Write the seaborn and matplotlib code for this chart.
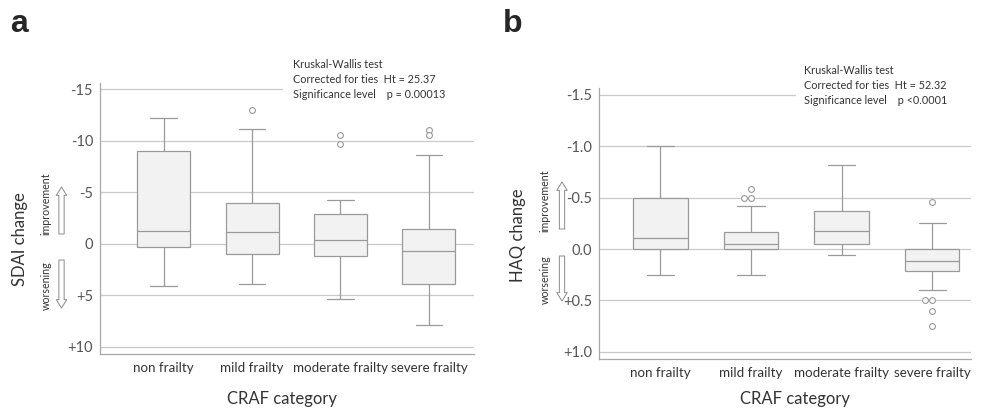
import pandas as pd
import numpy as np
import seaborn as sns
import matplotlib.pyplot as plt
from matplotlib.patches import Rectangle

# Box summaries (lo whisker, q1, median, q3, hi whisker)
categories = ['non frailty', 'mild frailty', 'moderate frailty', 'severe frailty']

sdai_lo = [-12.2, -11.1, -4.2, -8.65]
sdai_q1 = [-9.05, -4.0, -2.9, -1.4]
sdai_med = [-1.26, -1.17, -0.35, 0.7]
sdai_q3 = [0.35, 1.0, 1.2, 3.9]
sdai_hi = [4.1, 3.95, 5.4, 7.9]
sdai_outliers = [[], [-13.0], [-10.6, -9.7], [-11.0, -10.6]]

haq_lo = [-1.0, -0.42, -0.82, -0.25]
haq_q1 = [-0.5, -0.17, -0.37, 0.0]
haq_med = [-0.11, -0.046, -0.18, 0.12]
haq_q3 = [0.0, 0.0, -0.046, 0.21]
haq_hi = [0.25, 0.25, 0.058, 0.40]
haq_outliers = [[], [-0.58, -0.5, -0.5], [], [-0.455, 0.5, 0.5, 0.6, 0.75]]

sdai_ticks = [-15, -10, -5, 0, 5, 10]
sdai_ticklabels = ['-15', '-10', '-5', '0', '+5', '+10']
haq_ticks = [-1.5, -1.0, -0.5, 0.0, 0.5, 1.0]
haq_ticklabels = ['-1.5', '-1.0', '-0.5', '0.0', '+0.5', '+1.0']


def box_frame(lo, q1, med, q3, hi):
    # five points per group -> quartiles land exactly on q1/med/q3
    rows = []
    for i, cat in enumerate(categories):
        for v in (lo[i], q1[i], med[i], q3[i], hi[i]):
            rows.append((cat, v))
    return pd.DataFrame(rows, columns=['CRAF', 'value'])


def outlier_frame(outliers):
    rows = [(cat, v) for cat, vals in zip(categories, outliers) for v in vals]
    return pd.DataFrame(rows, columns=['CRAF', 'value'])


sns.set_style('white')
plt.rcParams['font.family'] = ['Lato', 'DejaVu Sans']

GRID = '#c9c9c9'
EDGE = '#9a9a9a'
TXT = '#333333'

fig = plt.figure(figsize=(9.85, 4.12), dpi=100)
ax1 = fig.add_axes([0.1015, 0.1408, 0.3797, 0.6577])
ax2 = fig.add_axes([0.608, 0.1286, 0.378, 0.6574])

panels = [
    (ax1, box_frame(sdai_lo, sdai_q1, sdai_med, sdai_q3, sdai_hi), outlier_frame(sdai_outliers),
     sdai_ticks, sdai_ticklabels, (10.7, -15.6), (-0.72, 3.51), 'SDAI change', False),
    (ax2, box_frame(haq_lo, haq_q1, haq_med, haq_q3, haq_hi), outlier_frame(haq_outliers),
     haq_ticks, haq_ticklabels, (1.07, -1.566), (-0.68, 3.43), 'HAQ change', True),
]

for ax, df, out, ticks, ticklabels, ylim, xlim, ylab, swarm in panels:
    sns.boxplot(data=df, x='CRAF', y='value', order=categories, ax=ax,
                width=0.6, whis=(0, 100), showfliers=False,
                color='#f2f2f2', linecolor=EDGE, linewidth=0.9)
    pt_kw = dict(data=out, x='CRAF', y='value', order=categories, ax=ax,
                 color='white', edgecolor=EDGE, linewidth=0.8, size=4.2)
    if swarm:
        # tied outliers sit side by side in panel b
        sns.swarmplot(**pt_kw)
    else:
        sns.stripplot(jitter=False, **pt_kw)
    ax.set_axisbelow(True)
    ax.set_yticks(ticks)
    ax.set_yticklabels(ticklabels)
    ax.set_ylim(*ylim)
    ax.set_xlim(*xlim)
    ax.grid(axis='y', color=GRID, lw=0.9)
    ax.grid(axis='x', visible=False)
    for s in ['top', 'right']:
        ax.spines[s].set_visible(False)
    for s in ['left', 'bottom']:
        ax.spines[s].set_color('#a8a8a8')
        ax.spines[s].set_linewidth(0.9)
    ax.tick_params(axis='y', length=0, pad=5, labelsize=10.5, labelcolor='#555555')
    ax.tick_params(axis='x', direction='in', length=7, width=0.9, color='#a8a8a8',
                   pad=6, labelsize=9.6, labelcolor=TXT)
    ax.set_xlabel('CRAF category', fontsize=12, color=TXT)
    ax.set_ylabel(ylab, fontsize=12, color=TXT, va='center')

ax1.xaxis.set_label_coords(0.487, -0.137)
ax2.xaxis.set_label_coords(0.527, -0.118)
ax1.yaxis.set_label_coords(-0.214, 0.424)
ax2.yaxis.set_label_coords(-0.218, 0.458)

# white patch behind the test summary (hides the top grid line there)
ax1.add_patch(Rectangle((0.49, 0.93), 0.52, 0.12, transform=ax1.transAxes,
                        facecolor='white', edgecolor='none', zorder=1, clip_on=False))
ax2.add_patch(Rectangle((0.53, 0.93), 0.48, 0.12, transform=ax2.transAxes,
                        facecolor='white', edgecolor='none', zorder=1, clip_on=False))

fig.text(293 / 985, 1 - 59 / 412,
         'Kruskal-Wallis test\nCorrected for ties  Ht = 25.37\nSignificance level    p = 0.00013',
         fontsize=7.8, color=TXT, va='top', ha='left', linespacing=1.45)
fig.text(804 / 985, 1 - 65 / 412,
         'Kruskal-Wallis test\nCorrected for ties  Ht = 52.32\nSignificance level    p <0.0001',
         fontsize=7.8, color=TXT, va='top', ha='left', linespacing=1.45)

# panel letters
fig.text(10 / 985, 1 - 9 / 412, 'a', fontsize=23, fontweight='bold',
         family='Liberation Sans', va='top')
fig.text(503 / 985, 1 - 9 / 412, 'b', fontsize=23, fontweight='bold',
         family='Liberation Sans', va='top')

# improvement / worsening hints with hollow arrows
arrow_kw = dict(arrowstyle='simple,head_width=0.75,head_length=0.6,tail_width=0.38',
                fc='white', ec='#8a8a8a', lw=0.7, shrinkA=0, shrinkB=0)
for x_txt, x_arr, imp, wor in [(46, 61.5, (234, 187, 204), (260, 308, 286)),
                               (545, 562, (229, 182, 201), (256, 301, 280))]:
    fig.text(x_txt / 985, 1 - imp[2] / 412, 'improvement', rotation=90, fontsize=7.7,
             color=TXT, ha='center', va='center')
    fig.text(x_txt / 985, 1 - wor[2] / 412, 'worsening', rotation=90, fontsize=7.7,
             color=TXT, ha='center', va='center')
    ax1.annotate('', xy=(x_arr, 412 - imp[1]), xytext=(x_arr, 412 - imp[0]),
                 xycoords='figure pixels', textcoords='figure pixels', arrowprops=arrow_kw)
    ax1.annotate('', xy=(x_arr, 412 - wor[1]), xytext=(x_arr, 412 - wor[0]),
                 xycoords='figure pixels', textcoords='figure pixels', arrowprops=arrow_kw)

fig.savefig('out.png', dpi=100, facecolor='white')
